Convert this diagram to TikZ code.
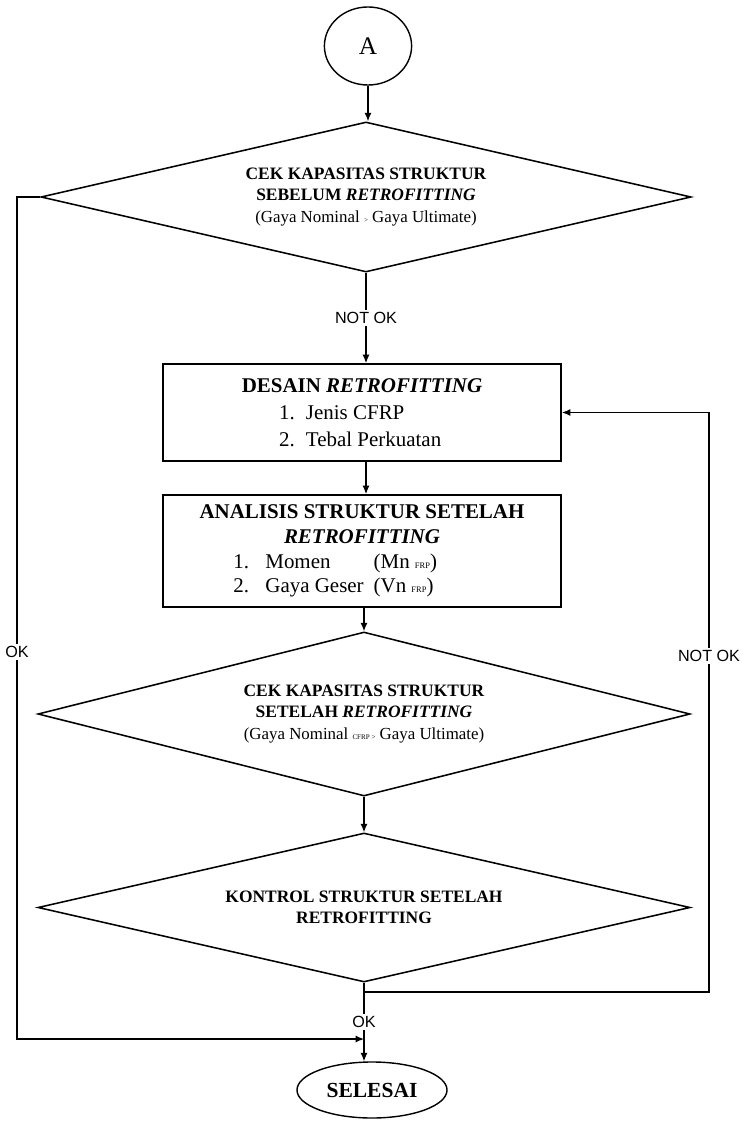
\documentclass[tikz,border=0pt]{standalone}
\usepackage{fontspec}
\setmainfont{Liberation Serif}
\newfontfamily\labelsans{Liberation Sans}
\usetikzlibrary{shapes.geometric,arrows.meta}
\tikzset{
  decision/.style={diamond, draw, line width=1.1pt, aspect=4.3, inner sep=0pt, align=center, font=\fontsize{12.4}{15}\selectfont},
  process/.style={rectangle, draw, line width=1.3pt, minimum width=9.95cm, align=center, font=\fontsize{14.9}{19}\selectfont},
  terminal/.style={ellipse, draw, line width=1pt},
  flowlabel/.style={fill=white, inner sep=1.5pt, font=\labelsans\fontsize{11.5}{13}\selectfont},
  flow/.style={->, line width=0.8pt},
}
\newcommand{\listitem}[2]{\makebox[118pt][l]{#1\hspace{8pt}#2}}
\newcommand{\hasilitem}[3]{\makebox[183pt][l]{\makebox[22.8pt][l]{#1}\makebox[77pt][l]{#2}#3}}
\newcommand{\kecil}[1]{{\fontsize{6}{7}\selectfont #1}}
\begin{document}
\begin{tikzpicture}[x=0.025cm, y=-0.025cm, >={Latex[length=6pt,width=5pt]}]
        \useasboundingbox (0,0) rectangle (746,1122);

        % Simbol awal dan akhir
        \node[terminal, minimum width=2.18cm, minimum height=1.95cm, font=\fontsize{18}{21}\selectfont] (mulai) at (368,46) {A};
        \node[terminal, minimum width=3.75cm, minimum height=1.4cm, font=\bfseries\fontsize{15.3}{18}\selectfont] (selesai) at (372,1090) {SELESAI};

        % Keputusan dan proses
        \node[decision, minimum width=16.25cm, minimum height=3.75cm] (cek1) at (366,197)
            {\textbf{CEK KAPASITAS STRUKTUR}\\ \textbf{SEBELUM \textit{RETROFITTING}}\\
             {\fontsize{12}{14}\selectfont (Gaya Nominal\ {\fontsize{5}{6}\selectfont >}\ Gaya Ultimate)}};
        \node[process, minimum height=2.425cm] (desain) at (362,412.5)
            {\textbf{DESAIN \textit{RETROFITTING}}\\
             \listitem{1.}{Jenis CFRP}\\ \listitem{2.}{Tebal Perkuatan}};
        \node[process, minimum height=2.8cm, font=\fontsize{14.9}{17.6}\selectfont] (analisis) at (362,551)
            {\textbf{ANALISIS STRUKTUR SETELAH}\\ \textbf{\textit{RETROFITTING}}\\
             \hasilitem{1.}{Momen}{(Mn \kecil{FRP})}\\
             \hasilitem{2.}{Gaya Geser}{(Vn \kecil{FRP})}};
        \node[decision, minimum width=16.3cm, minimum height=4.1cm] (cek2) at (364,714)
            {\textbf{CEK KAPASITAS STRUKTUR}\\ \textbf{SETELAH \textit{RETROFITTING}}\\
             {\fontsize{12}{14}\selectfont (Gaya Nominal {\fontsize{5}{6}\selectfont CFRP >} Gaya Ultimate)}};
        \node[decision, minimum width=16.3cm, minimum height=3.725cm] (kontrol) at (364,907.5)
            {\textbf{KONTROL STRUKTUR SETELAH}\\ \textbf{RETROFITTING}};

        % Titik bantu
        \coordinate (okjoin) at (364,1039);
        \coordinate (okcorner) at (17,1039);
        \coordinate (notokstart) at (364,992);
        \coordinate (notokcorner) at (709,412.5);

        % Alur utama
        \draw[flow] (mulai.south) -- (mulai.south |- cek1.north);
        \draw[flow] (cek1.south) -- node[flowlabel] {NOT OK} (cek1.south |- desain.north);
        \draw[flow] (desain.south -| cek1.south) -- (cek1.south |- analisis.north);
        \draw[flow] (analisis.south -| cek2.north) -- (cek2.north);
        \draw[flow] (cek2.south) -- (kontrol.north);
        \draw[flow] (kontrol.south) -- node[flowlabel] {OK} (kontrol.south |- selesai.north);

        % Alur balik
        \draw[flow] (cek1.west) -| node[flowlabel, pos=0.77] {OK} (okcorner) -- (okjoin);
        \draw[flow] (notokstart) -| node[flowlabel, pos=0.79] {NOT OK} (notokcorner) -- (desain.east);

\end{tikzpicture}
\end{document}
